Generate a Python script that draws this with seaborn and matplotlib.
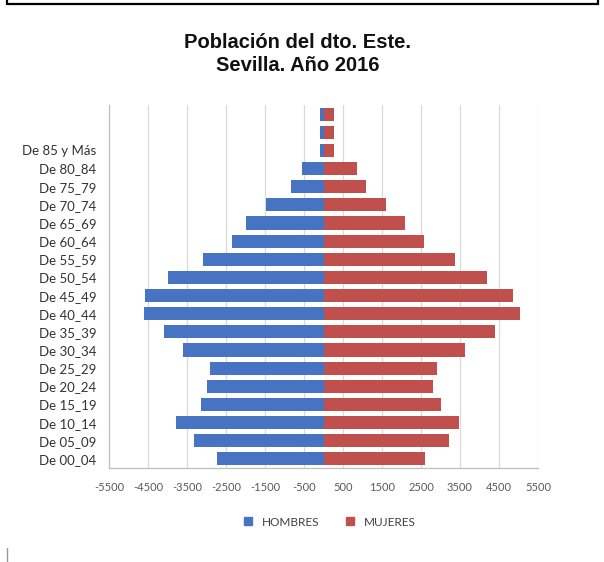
import numpy as np
import pandas as pd
import matplotlib
matplotlib.use("Agg")
import matplotlib.pyplot as plt
from matplotlib.lines import Line2D
import seaborn as sns

# ---- data ----
grupos = ["", " ", "De 85 y Más", "De 80_84", "De 75_79", "De 70_74", "De 65_69",
          "De 60_64", "De 55_59", "De 50_54", "De 45_49", "De 40_44", "De 35_39",
          "De 30_34", "De 25_29", "De 20_24", "De 15_19", "De 10_14", "De 05_09",
          "De 00_04"]
hombres = [-90, -90, -90, -550, -830, -1470, -1990, -2350, -3080, -3990, -4570,
           -4610, -4090, -3590, -2900, -2980, -3150, -3790, -3330, -2720]
mujeres = [260, 260, 260, 870, 1080, 1610, 2100, 2570, 3370, 4200, 4850,
           5030, 4390, 3640, 2910, 2820, 3020, 3480, 3220, 2590]
xticks = list(range(-5500, 5501, 1000))
series = ["HOMBRES", "MUJERES"]
colores = ["#4674C3", "#C0504D"]
titulo = "Población del dto. Este.\nSevilla. Año 2016"

df = pd.DataFrame({"grupo": grupos, "HOMBRES": hombres, "MUJERES": mujeres})

sns.set_style("white")
plt.rcParams["font.family"] = ["Lato", "DejaVu Sans"]

fig = plt.figure(figsize=(6.04, 5.62), dpi=100)
ax = fig.add_axes([109 / 604, 1 - 468 / 562, (538 - 109) / 604, (468 - 105) / 562])

for s, c in zip(series, colores):
    sns.barplot(data=df, y="grupo", x=s, orient="h", order=grupos, color=c,
                width=0.72, saturation=1, linewidth=0, ax=ax, zorder=3)

ax.set_xlim(-5500, 5500)
ax.set_xticks(xticks)
ax.set_xticklabels([str(v) for v in xticks], fontsize=8, color="#595959")
ax.grid(axis="x", color="#D9D9D9", linewidth=0.9, zorder=0)
ax.grid(axis="y", visible=False)
ax.set_xlabel("")
ax.set_ylabel("")

for side in ["top", "right"]:
    ax.spines[side].set_visible(False)
ax.spines["bottom"].set_color("#BFBFBF")
ax.spines["left"].set_color("#BFBFBF")
ax.spines["bottom"].set_linewidth(0.9)
ax.spines["left"].set_linewidth(0.9)

ax.tick_params(axis="x", which="major", length=4, color="#BFBFBF", pad=6, direction="out")
ax.tick_params(axis="y", which="major", length=0, pad=9, labelsize=9.5, labelcolor="#333333")
ax.set_yticks(np.arange(-0.5, len(grupos), 1), minor=True)
ax.tick_params(axis="y", which="minor", length=5, color="#BFBFBF", direction="out")

fig.text(0.493, 1 - 54 / 562, titulo, ha="center", va="center", fontsize=14.5,
         fontweight="bold", family=["Liberation Sans", "DejaVu Sans"],
         linespacing=1.25, color="#111111")

handles = [Line2D([], [], marker="s", linestyle="", markersize=5.5, color=c) for c in colores]
fig.legend(handles, series, loc="center", bbox_to_anchor=(326 / 604, 1 - 522 / 562),
           ncol=2, frameon=False, fontsize=8.5, handletextpad=0.2, columnspacing=1.6,
           labelcolor="#404040")

# border fragments
fig.add_artist(Line2D([7 / 604, 598 / 604], [1 - 4 / 562, 1 - 4 / 562], color="black", linewidth=1.6))
fig.add_artist(Line2D([7 / 604, 7 / 604], [1 - 4 / 562, 1.0], color="black", linewidth=1.6))
fig.add_artist(Line2D([598 / 604, 598 / 604], [1 - 4 / 562, 1.0], color="black", linewidth=1.6))
fig.add_artist(Line2D([7 / 604, 7 / 604], [0, 1 - 548 / 562], color="#999999", linewidth=1.0))

fig.savefig("out.png", dpi=100)
